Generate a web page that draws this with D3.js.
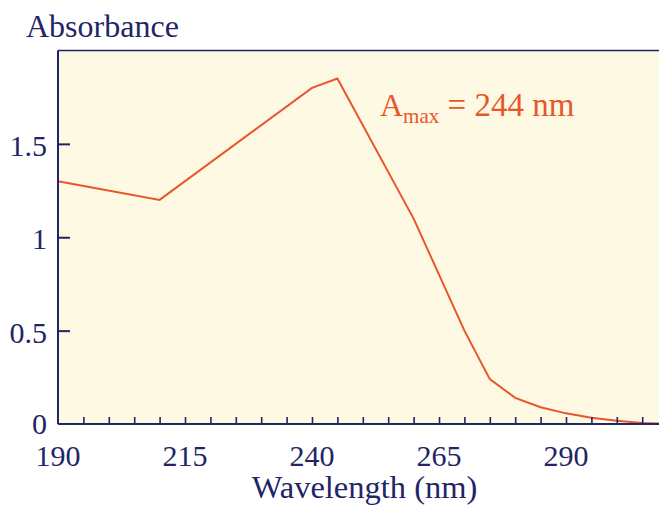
<!DOCTYPE html>
<html>
<head>
<meta charset="utf-8">
<script src="https://cdn.jsdelivr.net/npm/d3@7"></script>
<style>
  html, body { margin: 0; padding: 0; background: #ffffff; }
  svg { display: block; }
  text { font-family: "Liberation Serif", "Times New Roman", Tinos, "DejaVu Serif", "Noto Serif", serif; }
</style>
</head>
<body>
<div id="chart"></div>
<script>
// ---- data ----
const wavelengths = [190, 210, 240, 245, 260, 270, 275, 280, 285, 290, 295, 300, 305, 310];
const absorbance  = [1.3, 1.2, 1.8, 1.85, 1.1, 0.5, 0.24, 0.14, 0.09, 0.057, 0.034, 0.018, 0.006, 0];
const xTickLabels = [190, 215, 240, 265, 290];
const xMinorTicks = [195, 200, 205, 210, 215, 220, 225, 230, 235, 240, 245, 250, 255, 260, 265, 270, 275, 280, 285, 290, 295, 300, 305];
const yTickValues = [0, 0.5, 1, 1.5];
const yTickLabels = ["0", "0.5", "1", "1.5"];
const yTitle = "Absorbance";
const xTitle = "Wavelength (nm)";
const annoMain = "A", annoSub = "max", annoRest = " = 244 nm";

// ---- layout ----
const W = 659, H = 506;
const plotLeft = 58, plotTop = 50.5, plotBottom = 424;
const navy = "#1f2566", orange = "#e8562c", cream = "#fef9e3";

const svg = d3.select("#chart").append("svg").attr("width", W).attr("height", H);

const x = d3.scaleLinear().domain([190, 310]).range([plotLeft, plotLeft + 120 * 5.08]);
const y = d3.scaleLinear().domain([0, 2]).range([plotBottom, plotTop]);

// plot background
svg.append("rect").attr("x", plotLeft).attr("y", plotTop).attr("width", W - plotLeft).attr("height", plotBottom - plotTop)
  .attr("fill", cream);

// data line
const line = d3.line().x((d, i) => x(wavelengths[i])).y(d => y(d));
svg.append("path").datum(absorbance).attr("d", line)
  .attr("fill", "none").attr("stroke", orange).attr("stroke-width", 2).attr("stroke-linejoin", "miter");

// top border
svg.append("line").attr("x1", plotLeft).attr("x2", W).attr("y1", plotTop).attr("y2", plotTop)
  .attr("stroke", navy).attr("stroke-width", 1.6);

// x axis (inward minor ticks)
const xAxis = d3.axisTop(x).tickValues(xMinorTicks).tickSize(7).tickFormat("");
const gx = svg.append("g").attr("transform", `translate(0,${plotBottom})`).call(xAxis);
gx.select(".domain").remove();
gx.selectAll(".tick line").attr("stroke", navy).attr("stroke-width", 1.6);
svg.append("line").attr("x1", plotLeft).attr("x2", W).attr("y1", plotBottom).attr("y2", plotBottom)
  .attr("stroke", navy).attr("stroke-width", 2);

// x tick labels
svg.append("g").selectAll("text").data(xTickLabels).join("text")
  .attr("x", d => x(d)).attr("y", 466)
  .attr("text-anchor", "middle").attr("fill", navy)
  .style("font-size", "30px")
  .text(d => d);

// y axis (inward ticks)
const yAxis = d3.axisRight(y).tickValues(yTickValues.slice(1)).tickSize(12).tickFormat("");
const gy = svg.append("g").attr("transform", `translate(${plotLeft},0)`).call(yAxis);
gy.select(".domain").remove();
gy.selectAll(".tick line").attr("stroke", navy).attr("stroke-width", 2);
svg.append("line").attr("x1", plotLeft).attr("x2", plotLeft).attr("y1", plotTop).attr("y2", plotBottom)
  .attr("stroke", navy).attr("stroke-width", 2);

// y tick labels
svg.append("g").selectAll("text").data(yTickValues).join("text")
  .attr("x", 47).attr("y", d => y(d) + (d === 0 ? 10 : 12))
  .attr("text-anchor", "end").attr("fill", navy)
  .style("font-size", "30px")
  .text((d, i) => yTickLabels[i]);

// y title
svg.append("text").attr("x", 26).attr("y", 37).attr("fill", navy)
  .style("font-size", "32px").text(yTitle);

// x title
svg.append("text").attr("x", 364.5).attr("y", 498).attr("text-anchor", "middle").attr("fill", navy)
  .style("font-size", "32.5px").text(xTitle);

// annotation
const anno = svg.append("text").attr("x", 380).attr("y", 116).attr("fill", orange)
  .style("font-size", "32px");
anno.append("tspan").text(annoMain);
anno.append("tspan").attr("dy", 7).style("font-size", "21px").text(annoSub);
anno.append("tspan").attr("dy", -7).style("font-size", "33px").text(annoRest);
</script>
</body>
</html>
